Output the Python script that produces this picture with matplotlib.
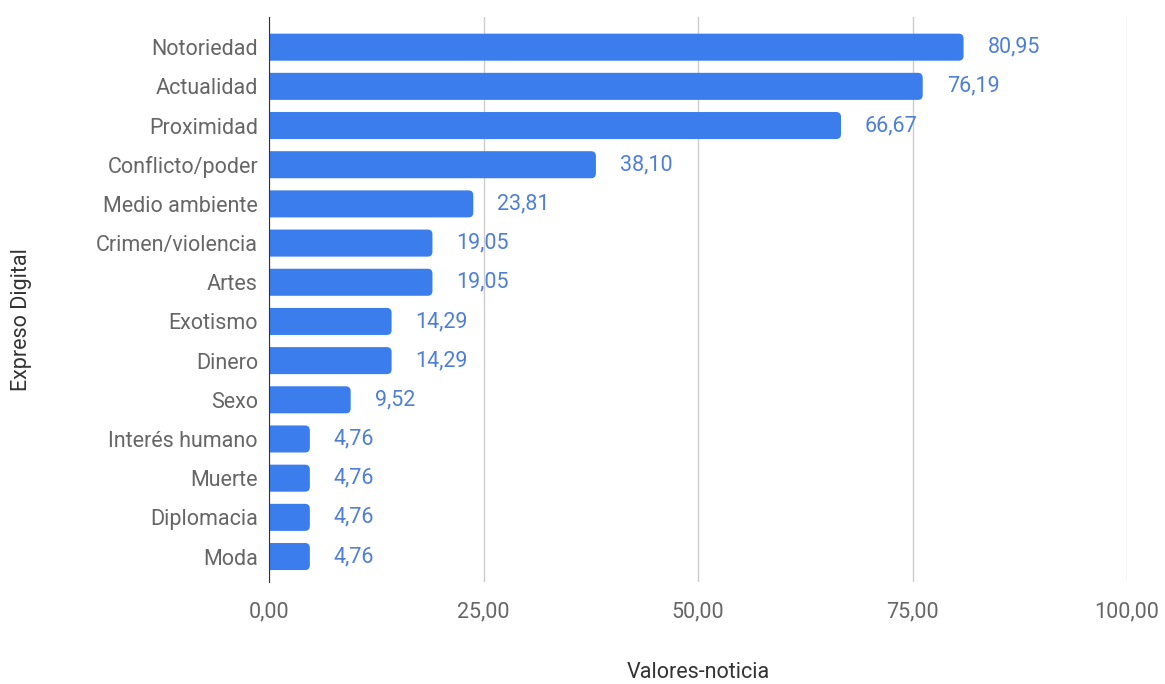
import matplotlib.pyplot as plt
from matplotlib.patches import FancyBboxPatch

categorias = ["Notoriedad", "Actualidad", "Proximidad", "Conflicto/poder", "Medio ambiente",
              "Crimen/violencia", "Artes", "Exotismo", "Dinero", "Sexo",
              "Interés humano", "Muerte", "Diplomacia", "Moda"]
valores = [80.95, 76.19, 66.67, 38.10, 23.81, 19.05, 19.05, 14.29, 14.29, 9.52,
           4.76, 4.76, 4.76, 4.76]
ticks_x = [0, 25, 50, 75, 100]

plt.rcParams['font.family'] = ['Roboto', 'DejaVu Sans']
azul = "#3b7ded"
gris = "#666666"
fs = 15.5

fig = plt.figure(figsize=(11.65, 6.84), dpi=100)
ax = fig.add_axes([269 / 1165, 1 - 582 / 684, 858 / 1165, 565 / 684])

pos = list(range(len(categorias)))
bars = ax.barh(pos, valores, height=0.69, color=azul)

# esquinas redondeadas (como en Google Charts)
for b in bars:
    x, y = b.get_x(), b.get_y()
    w, h = b.get_width(), b.get_height()
    b.set_visible(False)
    p = FancyBboxPatch((x - 1, y), w + 1, h, boxstyle="round,pad=0,rounding_size=0.55",
                       mutation_aspect=0.23, fc=azul, ec="none", zorder=2)
    ax.add_patch(p)

for yy, v in zip(pos, valores):
    ax.annotate(f"{v:.2f}".replace(".", ","), (v, yy), xytext=(24, 0),
                textcoords="offset pixels", va="center", ha="left",
                color="#4f7fd6", fontsize=fs)

ax.set_xlim(0, 100)
ax.set_ylim(len(categorias) - 1 + 0.65, -0.77)
ax.set_yticks(pos)
ax.set_yticklabels(categorias)
ax.set_xticks(ticks_x)
ax.set_xticklabels([f"{t:.2f}".replace(".", ",") for t in ticks_x])
ax.tick_params(axis="both", length=0, labelsize=fs, colors=gris)
ax.tick_params(axis="x", pad=14)
ax.tick_params(axis="y", pad=8)
ax.grid(axis="x", color="#cccccc", linewidth=1)
ax.set_axisbelow(True)
for s in ["top", "right", "bottom"]:
    ax.spines[s].set_visible(False)
ax.spines["left"].set_color("#333333")
ax.spines["left"].set_zorder(3)

fig.text(698 / 1165, 1 - 672 / 684, "Valores-noticia", ha="center", va="center",
         fontsize=fs, color="#333333")
fig.text(22 / 1165, 1 - 320 / 684, "Expreso Digital", ha="center", va="center",
         rotation=90, fontsize=fs, color="#333333")

fig.savefig("out.png", dpi=100)
